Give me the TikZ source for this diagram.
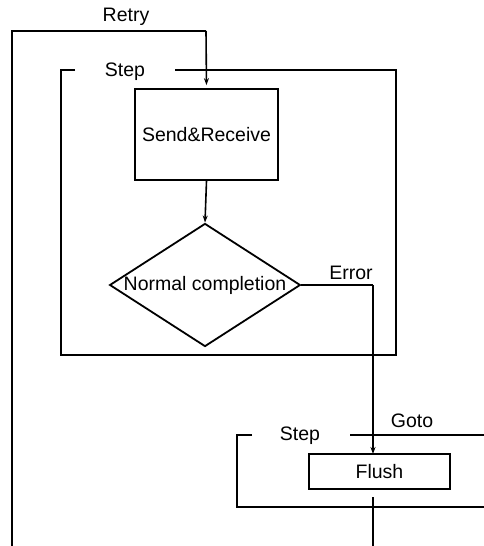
\documentclass[tikz,border=0pt]{standalone}
\usepackage{fontspec}
\setmainfont{Liberation Sans}
\usetikzlibrary{shapes.geometric,arrows.meta}

\tikzset{
  box/.style={draw,line width=1.8pt,inner sep=0pt},
  flow/.style={line width=1.6pt},
  arr/.style={flow,-{Stealth[length=7pt,width=5pt]}},
  lbl/.style={inner sep=0pt,font=\fontsize{19.5}{22}\selectfont}
}

\begin{document}
\begin{tikzpicture}[x=1pt,y=-1pt]
\useasboundingbox (0,0) rectangle (484,546);

% blocks
\node[box,minimum width=143pt,minimum height=91pt,lbl] (sendrecv) at (206.5,134.5) {Send\&Receive};
\node[box,shape=diamond,aspect=1.55,minimum width=186pt,minimum height=120pt,lbl] (check) at (205,285) {Normal completion};
\node[box,minimum width=141pt,minimum height=35pt,lbl] (flush) at (379.5,471.5) {Flush};

% labels
\node[lbl] (retry) at (126,17) {Retry};
\node[lbl] (steptop) at (125,72) {Step};
\node[lbl] (error) at (351,273) {Error};
\node[lbl] (stepbot) at (300,436) {Step};
\node[lbl] (goto) at (412,421) {Goto};

% helper points
\coordinate (retrytop) at (206,31);
\coordinate (errcorner) at (373,285);
\coordinate (flushin) at (373,454);
\coordinate (flushout) at (373,497);

% retry loop
\draw[flow] (12,546) |- (retrytop);
\draw[arr,shorten >=3pt] (retrytop) -- (sendrecv.north);

% outer step frame
\draw[flow] (75,70) -- (61,70) -- (61,355) -- (396,355) -- (396,70) -- (175,70);

% main flow
\draw[arr] (sendrecv.south) -- (check.north);
\draw[flow] (check.east) -- (errcorner);
\draw[arr] (errcorner) -- (flushin);

% lower step frame
\draw[flow] (252,435) -- (237,435) -- (237,507) -- (484,507);
\draw[flow] (350,435) -- (484,435);
\draw[flow] (flushout) -- (373,546);
\end{tikzpicture}
\end{document}
